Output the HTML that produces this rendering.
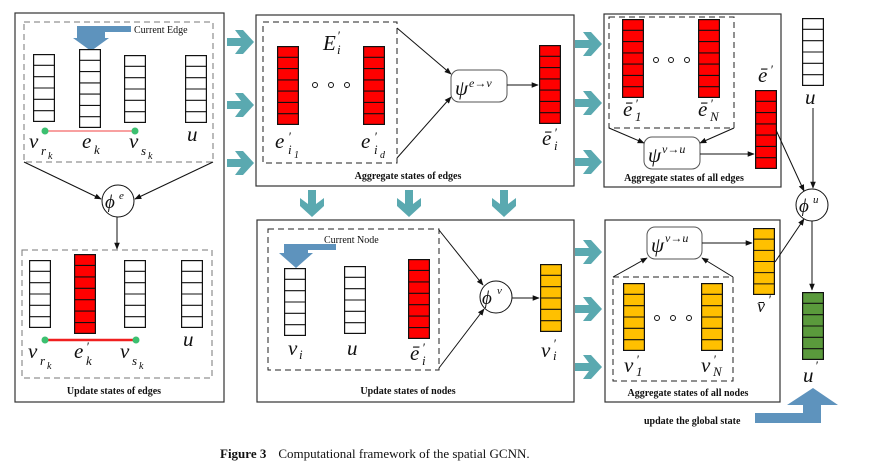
<!DOCTYPE html>
<html><head><meta charset="utf-8"><style>
html,body{margin:0;padding:0;background:#fff;}
svg{display:block;}
.m{font-family:"Liberation Serif",serif;font-style:italic;font-size:21px;fill:#111;}
.s{font-family:"Liberation Serif",serif;font-style:italic;font-size:13px;fill:#111;}
.cap{font-family:"Liberation Serif",serif;font-weight:bold;font-size:10px;fill:#111;}
.sm{font-family:"Liberation Serif",serif;font-size:10px;fill:#111;}
</style></head><body>
<svg width="873" height="472" viewBox="0 0 873 472" xmlns="http://www.w3.org/2000/svg" xmlns:xlink="http://www.w3.org/1999/xlink">
<defs>
<symbol id="c6" viewBox="0 0 22 68" preserveAspectRatio="none">
<rect x="0.6" y="0.6" width="20.8" height="66.8" stroke="#111" stroke-width="1.2"/>
<path d="M0 11.3h22M0 22.7h22M0 34h22M0 45.3h22M0 56.7h22" stroke="#111" stroke-width="1.1"/>
</symbol>
<symbol id="c7" viewBox="0 0 22 79" preserveAspectRatio="none">
<rect x="0.6" y="0.6" width="20.8" height="77.8" stroke="#111" stroke-width="1.2"/>
<path d="M0 11.3h22M0 22.6h22M0 33.9h22M0 45.1h22M0 56.4h22M0 67.7h22" stroke="#111" stroke-width="1.1"/>
</symbol>
<marker id="ah" viewBox="0 0 10 10" refX="9" refY="5" markerWidth="7" markerHeight="7" orient="auto"><path d="M0 1L10 5L0 9z" fill="#111"/></marker>
<linearGradient id="tg" x1="0" y1="0" x2="0" y2="1"><stop offset="0" stop-color="#4a9ea6"/><stop offset="1" stop-color="#7dbcc2"/></linearGradient>
<symbol id="ta" viewBox="0 0 28 26" overflow="visible">
<path d="M0 9L14 9L8 1L16 1L27 13L16 25L8 25L14 17L0 17Z" fill="#5aa9b0"/>
</symbol>
</defs>

<!-- Panel A -->
<rect x="15" y="13" width="209" height="389" fill="none" stroke="#333" stroke-width="1.2"/>
<rect x="24" y="22" width="189" height="140" fill="none" stroke="#777" stroke-width="1" stroke-dasharray="6,4"/>
<path d="M93 26h38v6h-26v6h4l-18 13l-18-13h4v-12z" fill="#5e93bd"/>
<text x="134" y="33" class="sm">Current Edge</text>
<use href="#c6" x="33" y="54" width="22" height="68" fill="#fff"/>
<use href="#c7" x="79" y="49" width="22" height="79" fill="#fff"/>
<use href="#c6" x="124" y="55" width="22" height="68" fill="#fff"/>
<use href="#c6" x="185" y="55" width="22" height="68" fill="#fff"/>
<line x1="45" y1="131" x2="135" y2="131" stroke="#f04040" stroke-width="1"/>
<circle cx="45" cy="131" r="3.5" fill="#3cc070"/><circle cx="135" cy="131" r="3.5" fill="#3cc070"/>
<text x="29" y="148" class="m">v</text><text x="41" y="155" class="s">r</text><text x="48" y="159" class="s" style="font-size:10px">k</text>
<text x="82" y="148" class="m">e</text><text x="94" y="154" class="s">k</text>
<text x="129" y="148" class="m">v</text><text x="141" y="155" class="s">s</text><text x="148" y="159" class="s" style="font-size:10px">k</text>
<text x="187" y="141" class="m">u</text>
<line x1="24" y1="162" x2="101" y2="199" stroke="#111" marker-end="url(#ah)"/>
<line x1="213" y1="162" x2="135" y2="199" stroke="#111" marker-end="url(#ah)"/>
<circle cx="118" cy="201" r="16" fill="#fff" stroke="#111"/>
<text x="105" y="208" class="m" style="font-size:19px">ϕ</text><text x="119" y="199" class="s" style="font-size:11px">e</text>
<line x1="117" y1="217" x2="117" y2="249" stroke="#111" marker-end="url(#ah)"/>
<rect x="22" y="250" width="190" height="128" fill="none" stroke="#777" stroke-width="1" stroke-dasharray="6,4"/>
<use href="#c6" x="29" y="260" width="22" height="68" fill="#fff"/>
<use href="#c7" x="74" y="254" width="22" height="80" fill="#f00"/>
<use href="#c6" x="124" y="260" width="22" height="68" fill="#fff"/>
<use href="#c6" x="181" y="260" width="22" height="68" fill="#fff"/>
<line x1="45" y1="340" x2="136" y2="340" stroke="#f02020" stroke-width="2.5"/>
<circle cx="45" cy="340" r="3.5" fill="#3cc070"/><circle cx="136" cy="340" r="3.5" fill="#3cc070"/>
<text x="28" y="358" class="m">v</text><text x="40" y="365" class="s">r</text><text x="47" y="369" class="s" style="font-size:10px">k</text>
<text x="74" y="358" class="m">e</text><text x="86" y="351" class="s">′</text><text x="86" y="365" class="s">k</text>
<text x="120" y="358" class="m">v</text><text x="132" y="365" class="s">s</text><text x="139" y="369" class="s" style="font-size:10px">k</text>
<text x="183" y="346" class="m">u</text>
<text x="114" y="394" class="cap" text-anchor="middle">Update states of edges</text>

<!-- teal arrows A->B -->
<use href="#ta" x="227" y="29" width="28" height="26"/>
<use href="#ta" x="227" y="92" width="28" height="26"/>
<use href="#ta" x="227" y="150" width="28" height="26"/>

<!-- Panel B -->
<rect x="256" y="15" width="318" height="171" fill="none" stroke="#333" stroke-width="1.2"/>
<rect x="263" y="22" width="134" height="141" fill="none" stroke="#222" stroke-width="1" stroke-dasharray="6,4"/>
<text x="323" y="50" class="m">E</text><text x="337" y="40" class="s">′</text><text x="337" y="54" class="s">i</text>
<use href="#c7" x="277" y="46" width="22" height="79" fill="#f00"/>
<use href="#c7" x="363" y="46" width="22" height="79" fill="#f00"/>
<circle cx="315" cy="85" r="2.5" fill="none" stroke="#111"/><circle cx="331" cy="85" r="2.5" fill="none" stroke="#111"/><circle cx="347" cy="85" r="2.5" fill="none" stroke="#111"/>
<text x="275" y="148" class="m">e</text><text x="288" y="141" class="s">′</text><text x="288" y="154" class="s">i</text><text x="294" y="158" class="s" style="font-size:10px">1</text>
<text x="361" y="148" class="m">e</text><text x="374" y="141" class="s">′</text><text x="374" y="154" class="s">i</text><text x="380" y="158" class="s" style="font-size:10px">d</text>
<line x1="397" y1="28" x2="451" y2="74" stroke="#111" marker-end="url(#ah)"/>
<line x1="397" y1="158" x2="451" y2="97" stroke="#111" marker-end="url(#ah)"/>
<rect x="451" y="70" width="56" height="32" rx="8" fill="#fff" stroke="#555"/>
<text x="455" y="95" class="m">ψ</text><text x="469" y="87" class="s" style="font-size:12px">e→v</text>
<line x1="507" y1="85" x2="538" y2="85" stroke="#111" marker-end="url(#ah)"/>
<use href="#c7" x="539" y="45" width="22" height="79" fill="#f00"/>
<text x="542" y="145" class="m">ē</text><text x="554" y="137" class="s">′</text><text x="554" y="150" class="s">i</text>
<text x="408" y="179" class="cap" text-anchor="middle">Aggregate states of edges</text>

<!-- teal arrows B->C -->
<use href="#ta" x="575" y="31" width="28" height="26"/>
<use href="#ta" x="575" y="90" width="28" height="26"/>
<use href="#ta" x="575" y="149" width="28" height="26"/>

<!-- down arrows B->D -->
<g transform="translate(325,190) rotate(90)"><use href="#ta" x="0" y="0" width="28" height="26"/></g>
<g transform="translate(422,190) rotate(90)"><use href="#ta" x="0" y="0" width="28" height="26"/></g>
<g transform="translate(517,190) rotate(90)"><use href="#ta" x="0" y="0" width="28" height="26"/></g>

<!-- Panel C -->
<rect x="604" y="14" width="177" height="173" fill="none" stroke="#333" stroke-width="1.2"/>
<rect x="609" y="17" width="125" height="111" fill="none" stroke="#222" stroke-width="1" stroke-dasharray="6,4"/>
<use href="#c7" x="622" y="19" width="22" height="79" fill="#f00"/>
<use href="#c7" x="698" y="19" width="22" height="79" fill="#f00"/>
<circle cx="656" cy="60" r="2.5" fill="none" stroke="#111"/><circle cx="671" cy="60" r="2.5" fill="none" stroke="#111"/><circle cx="687" cy="60" r="2.5" fill="none" stroke="#111"/>
<text x="623" y="116" class="m">ē</text><text x="635" y="108" class="s">′</text><text x="635" y="121" class="s">1</text>
<text x="698" y="116" class="m">ē</text><text x="710" y="108" class="s">′</text><text x="710" y="121" class="s">N</text>
<line x1="609" y1="128" x2="644" y2="143" stroke="#111" marker-end="url(#ah)"/>
<line x1="734" y1="128" x2="700" y2="143" stroke="#111" marker-end="url(#ah)"/>
<rect x="644" y="137" width="56" height="32" rx="8" fill="#fff" stroke="#555"/>
<text x="648" y="162" class="m">ψ</text><text x="662" y="153" class="s" style="font-size:12px">v→u</text>
<line x1="700" y1="154" x2="754" y2="154" stroke="#111" marker-end="url(#ah)"/>
<use href="#c7" x="755" y="90" width="22" height="79" fill="#f00"/>
<text x="758" y="82" class="m">ē</text><text x="770" y="74" class="s">′</text>
<text x="684" y="181" class="cap" text-anchor="middle">Aggregate states of all edges</text>

<!-- u column -->
<use href="#c6" x="802" y="18" width="22" height="68" fill="#fff"/>
<text x="805" y="104" class="m">u</text>
<line x1="813" y1="108" x2="813" y2="188" stroke="#111" marker-end="url(#ah)"/>
<line x1="776" y1="130" x2="804" y2="191" stroke="#111" marker-end="url(#ah)"/>
<circle cx="812" cy="205" r="16" fill="#fff" stroke="#111"/>
<text x="799" y="212" class="m" style="font-size:19px">ϕ</text><text x="813" y="203" class="s" style="font-size:11px">u</text>
<line x1="812" y1="221" x2="812" y2="290" stroke="#111" marker-end="url(#ah)"/>
<use href="#c6" x="802" y="292" width="22" height="68" fill="#5a9a3c"/>
<text x="803" y="382" class="m">u</text><text x="815" y="370" class="s">′</text>

<!-- Panel D -->
<rect x="257" y="220" width="317" height="182" fill="none" stroke="#333" stroke-width="1.2"/>
<rect x="268" y="229" width="171" height="141" fill="none" stroke="#222" stroke-width="1" stroke-dasharray="6,4"/>
<path d="M290 244h46v6h-28v3h5l-17 15l-17-15h5v-9z" fill="#5e93bd"/>
<text x="324" y="243" class="sm">Current Node</text>
<use href="#c6" x="284" y="268" width="22" height="68" fill="#fff"/>
<use href="#c6" x="344" y="266" width="22" height="68" fill="#fff"/>
<use href="#c7" x="408" y="259" width="22" height="80" fill="#f00"/>
<text x="288" y="355" class="m">v</text><text x="299" y="359" class="s">i</text>
<text x="347" y="355" class="m">u</text>
<text x="410" y="360" class="m">ē</text><text x="422" y="352" class="s">′</text><text x="422" y="365" class="s">i</text>
<line x1="439" y1="230" x2="483" y2="285" stroke="#111" marker-end="url(#ah)"/>
<line x1="439" y1="368" x2="484" y2="309" stroke="#111" marker-end="url(#ah)"/>
<circle cx="496" cy="297" r="16" fill="#fff" stroke="#111"/>
<text x="482" y="304" class="m" style="font-size:19px">ϕ</text><text x="497" y="294" class="s" style="font-size:11px">v</text>
<line x1="512" y1="298" x2="539" y2="298" stroke="#111" marker-end="url(#ah)"/>
<use href="#c6" x="540" y="264" width="22" height="68" fill="#ffc000"/>
<text x="541" y="357" class="m">v</text><text x="553" y="348" class="s">′</text><text x="553" y="360" class="s">i</text>
<text x="408" y="394" class="cap" text-anchor="middle">Update states of nodes</text>

<!-- teal arrows D->E -->
<use href="#ta" x="575" y="239" width="28" height="26"/>
<use href="#ta" x="575" y="296" width="28" height="26"/>
<use href="#ta" x="575" y="354" width="28" height="26"/>

<!-- Panel E -->
<rect x="605" y="220" width="175" height="182" fill="none" stroke="#333" stroke-width="1.2"/>
<rect x="647" y="227" width="55" height="32" rx="8" fill="#fff" stroke="#555"/>
<text x="651" y="252" class="m">ψ</text><text x="665" y="242" class="s" style="font-size:12px">v→u</text>
<line x1="702" y1="243" x2="752" y2="243" stroke="#111" marker-end="url(#ah)"/>
<use href="#c6" x="753" y="228" width="22" height="67" fill="#ffc000"/>
<text x="757" y="312" class="m" style="font-size:18px">v̄</text><text x="768" y="304" class="s">′</text>
<rect x="613" y="277" width="120" height="104" fill="none" stroke="#222" stroke-width="1" stroke-dasharray="6,4"/>
<line x1="613" y1="277" x2="647" y2="258" stroke="#111" marker-end="url(#ah)"/>
<line x1="733" y1="277" x2="702" y2="258" stroke="#111" marker-end="url(#ah)"/>
<use href="#c6" x="623" y="283" width="22" height="68" fill="#ffc000"/>
<use href="#c6" x="701" y="283" width="22" height="68" fill="#ffc000"/>
<circle cx="657" cy="318" r="2.5" fill="none" stroke="#111"/><circle cx="673" cy="318" r="2.5" fill="none" stroke="#111"/><circle cx="689" cy="318" r="2.5" fill="none" stroke="#111"/>
<text x="624" y="372" class="m">v</text><text x="636" y="364" class="s">′</text><text x="636" y="376" class="s">1</text>
<text x="701" y="372" class="m">v</text><text x="713" y="364" class="s">′</text><text x="713" y="376" class="s">N</text>
<text x="688" y="396" class="cap" text-anchor="middle">Aggregate states of all nodes</text>
<line x1="775" y1="262" x2="804" y2="219" stroke="#111" marker-end="url(#ah)"/>

<!-- global state arrow -->
<path d="M755 413H803V405H787L813 388L838 405H821V423H755Z" fill="#5e93bd"/>
<text x="644" y="424" class="cap">update the global state</text>

<!-- caption -->
<text x="220" y="458" font-family="Liberation Serif,serif" font-size="13" fill="#111"><tspan font-weight="bold">Figure 3</tspan><tspan dx="12">Computational framework of the spatial GCNN.</tspan></text>
</svg>
</body></html>
